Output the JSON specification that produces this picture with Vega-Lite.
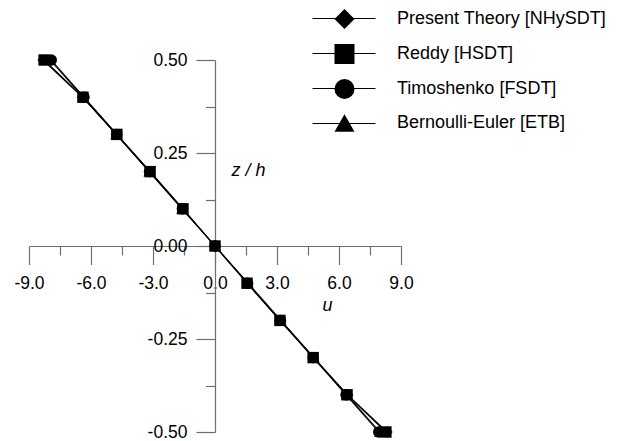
{
  "$schema": "https://vega.github.io/schema/vega-lite/v6.json",
  "autosize": "none",
  "padding": {"left": 29, "top": 60, "right": 217, "bottom": 9},
  "width": 372,
  "height": 372,
  "background": "white",
  "config": {
    "view": {"stroke": null},
    "font": "Liberation Sans",
    "axis": {"grid": false, "domainColor": "#6e6e6e", "tickColor": "#6e6e6e", "domainWidth": 1.2, "tickWidth": 1.2, "labelColor": "#000000", "labelFont": "Liberation Sans", "labelFontSize": 17.5, "titleFont": "Liberation Sans", "titleFontSize": 18, "titleFontStyle": "italic", "titleFontWeight": "normal", "titleColor": "#000000"}
  },
  "data": {
    "values": [
      {"series": "Bernoulli-Euler [ETB]", "z": 0.5, "u": -7.98},
      {"series": "Bernoulli-Euler [ETB]", "z": 0.4, "u": -6.38},
      {"series": "Bernoulli-Euler [ETB]", "z": 0.3, "u": -4.79},
      {"series": "Bernoulli-Euler [ETB]", "z": 0.2, "u": -3.19},
      {"series": "Bernoulli-Euler [ETB]", "z": 0.1, "u": -1.6},
      {"series": "Bernoulli-Euler [ETB]", "z": 0.0, "u": 0.0},
      {"series": "Bernoulli-Euler [ETB]", "z": -0.1, "u": 1.6},
      {"series": "Bernoulli-Euler [ETB]", "z": -0.2, "u": 3.19},
      {"series": "Bernoulli-Euler [ETB]", "z": -0.3, "u": 4.79},
      {"series": "Bernoulli-Euler [ETB]", "z": -0.4, "u": 6.38},
      {"series": "Bernoulli-Euler [ETB]", "z": -0.5, "u": 7.98},
      {"series": "Timoshenko [FSDT]", "z": 0.5, "u": -7.92},
      {"series": "Timoshenko [FSDT]", "z": 0.4, "u": -6.34},
      {"series": "Timoshenko [FSDT]", "z": 0.3, "u": -4.75},
      {"series": "Timoshenko [FSDT]", "z": 0.2, "u": -3.17},
      {"series": "Timoshenko [FSDT]", "z": 0.1, "u": -1.58},
      {"series": "Timoshenko [FSDT]", "z": 0.0, "u": 0.0},
      {"series": "Timoshenko [FSDT]", "z": -0.1, "u": 1.58},
      {"series": "Timoshenko [FSDT]", "z": -0.2, "u": 3.17},
      {"series": "Timoshenko [FSDT]", "z": -0.3, "u": 4.75},
      {"series": "Timoshenko [FSDT]", "z": -0.4, "u": 6.34},
      {"series": "Timoshenko [FSDT]", "z": -0.5, "u": 7.92},
      {"series": "Present Theory [NHySDT]", "z": 0.5, "u": -8.32},
      {"series": "Present Theory [NHySDT]", "z": 0.4, "u": -6.42},
      {"series": "Present Theory [NHySDT]", "z": 0.3, "u": -4.77},
      {"series": "Present Theory [NHySDT]", "z": 0.2, "u": -3.14},
      {"series": "Present Theory [NHySDT]", "z": 0.1, "u": -1.56},
      {"series": "Present Theory [NHySDT]", "z": 0.0, "u": 0.0},
      {"series": "Present Theory [NHySDT]", "z": -0.1, "u": 1.56},
      {"series": "Present Theory [NHySDT]", "z": -0.2, "u": 3.14},
      {"series": "Present Theory [NHySDT]", "z": -0.3, "u": 4.77},
      {"series": "Present Theory [NHySDT]", "z": -0.4, "u": 6.42},
      {"series": "Present Theory [NHySDT]", "z": -0.5, "u": 8.32},
      {"series": "Reddy [HSDT]", "z": 0.5, "u": -8.27},
      {"series": "Reddy [HSDT]", "z": 0.4, "u": -6.39},
      {"series": "Reddy [HSDT]", "z": 0.3, "u": -4.75},
      {"series": "Reddy [HSDT]", "z": 0.2, "u": -3.14},
      {"series": "Reddy [HSDT]", "z": 0.1, "u": -1.55},
      {"series": "Reddy [HSDT]", "z": 0.0, "u": 0.0},
      {"series": "Reddy [HSDT]", "z": -0.1, "u": 1.55},
      {"series": "Reddy [HSDT]", "z": -0.2, "u": 3.14},
      {"series": "Reddy [HSDT]", "z": -0.3, "u": 4.75},
      {"series": "Reddy [HSDT]", "z": -0.4, "u": 6.39},
      {"series": "Reddy [HSDT]", "z": -0.5, "u": 8.27}
    ]
  },
  "encoding": {
    "x": {
      "field": "u", "type": "quantitative",
      "scale": {"domain": [-9, 9], "nice": false, "zero": false},
      "axis": {
        "values": [-9, -7.5, -6, -4.5, -3, -1.5, 0, 1.5, 3, 4.5, 6, 7.5, 9],
        "labelExpr": "abs(datum.value / 3 - round(datum.value / 3)) < 0.001 ? replace(format(datum.value, '.1f'), '\u2212', '-') : ''",
        "labelOverlap": false,
        "labelFlush": false,
        "offset": -186,
        "labelPadding": 10,
        "tickSize": {"condition": {"test": "abs(datum.value / 3 - round(datum.value / 3)) < 0.001", "value": 18.5}, "value": 9},
        "title": "u",
        "titleAngle": 0,
        "titleAlign": "center",
        "titleBaseline": "middle",
        "titleX": 298,
        "titleY": 59
      }
    },
    "y": {
      "field": "z", "type": "quantitative",
      "scale": {"domain": [-0.5, 0.5], "nice": false, "zero": false},
      "axis": {
        "values": [-0.5, -0.375, -0.25, -0.125, 0, 0.125, 0.25, 0.375, 0.5],
        "labelExpr": "abs(datum.value * 4 - round(datum.value * 4)) < 0.001 ? replace(format(datum.value, '.2f'), '\u2212', '-') : ''",
        "labelOverlap": false,
        "labelFlush": false,
        "offset": -186,
        "labelPadding": 9,
        "tickSize": {"condition": {"test": "abs(datum.value * 4 - round(datum.value * 4)) < 0.001", "value": 19}, "value": 9.5},
        "title": "z / h",
        "titleAngle": 0,
        "titleAlign": "center",
        "titleBaseline": "middle",
        "titleX": 33,
        "titleY": 110
      }
    }
  },
  "layer": [
    {
      "mark": {"type": "line", "strokeWidth": 1.1},
      "encoding": {
        "color": {
          "field": "series", "type": "nominal",
          "sort": ["Present Theory [NHySDT]", "Reddy [HSDT]", "Timoshenko [FSDT]", "Bernoulli-Euler [ETB]"],
          "scale": {"range": ["black", "black", "black", "black"]},
          "legend": {
            "title": null,
            "orient": "none",
            "legendX": 304.5,
            "legendY": -52,
            "padding": 0,
            "symbolType": "M-3.15,0H3.15",
            "symbolSize": 400,
            "symbolStrokeWidth": 1,
            "symbolStrokeColor": "black",
            "labelFontSize": 18,
            "labelFont": "Liberation Sans",
            "labelExpr": "''",
            "labelOffset": 41.5,
            "labelLimit": 400,
            "rowPadding": 15
          }
        },
        "order": {"field": "z", "type": "quantitative"}
      }
    },
    {
      "mark": {"type": "point", "filled": true, "color": "black", "opacity": 1, "size": 130},
      "encoding": {
        "shape": {
          "field": "series", "type": "nominal",
          "scale": {
            "domain": ["Present Theory [NHySDT]", "Reddy [HSDT]", "Timoshenko [FSDT]", "Bernoulli-Euler [ETB]"],
            "range": ["diamond", "square", "circle", "triangle-up"]
          },
          "legend": {
            "title": null,
            "orient": "none",
            "legendX": 304.5,
            "legendY": -52,
            "padding": 0,
            "symbolSize": 400,
            "symbolFillColor": "black",
            "symbolStrokeColor": "black",
            "symbolOpacity": 1,
            "labelFontSize": 18,
            "labelFont": "Liberation Sans",
            "labelColor": "#000000",
            "labelOffset": 41.5,
            "labelLimit": 400,
            "rowPadding": 9
          }
        }
      }
    }
  ]
}
